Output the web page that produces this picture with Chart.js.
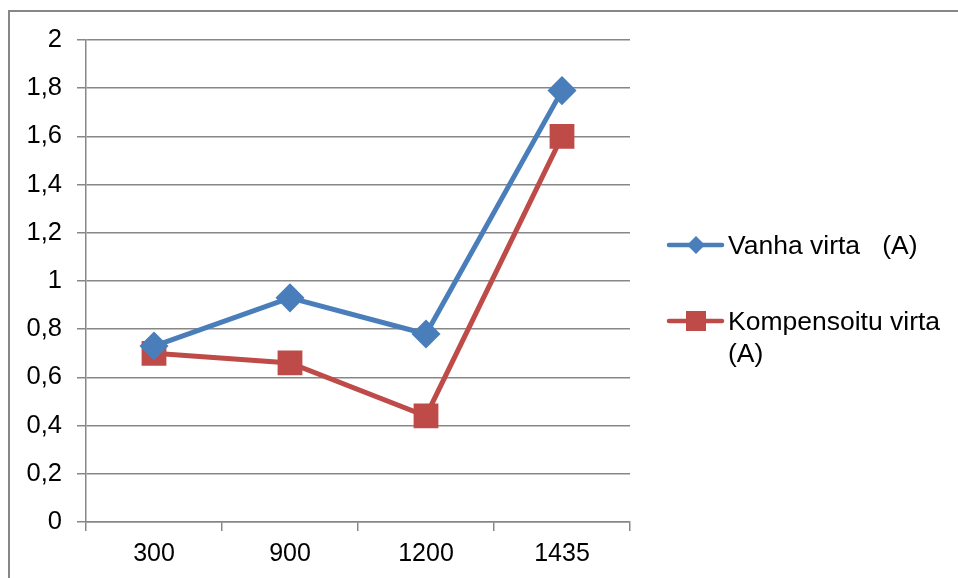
<!DOCTYPE html>
<html>
<head>
    <title>Vanha ja kompensoitu virta</title>
    <script src="https://cdn.jsdelivr.net/npm/chart.js"></script>
    <style>
        body { margin: 0; background: #fff; }
        #wrap { position: relative; width: 958px; height: 578px; }
    </style>
</head>
<body>
    <div id="wrap"><canvas id="virtaChart" width="958" height="578"></canvas></div>

    <script>
        const categories = ['300', '900', '1200', '1435'];
        const vanhaVirta = [0.73, 0.93, 0.78, 1.79];
        const kompensoituVirta = [0.70, 0.66, 0.44, 1.60];
        const seriesLabels = [['Vanha virta   (A)'], ['Kompensoitu virta', '(A)']];

        const FONT = '"Liberation Sans", Arial, sans-serif';
        const GRID = '#878787';

        // frame + legend drawn on the canvas
        const extras = {
            id: 'extras',
            beforeDraw(chart) {
                const ctx = chart.ctx;
                ctx.save();
                ctx.strokeStyle = GRID;
                ctx.lineWidth = 2;
                ctx.beginPath();
                ctx.moveTo(9, 578);
                ctx.lineTo(9, 11);
                ctx.lineTo(958, 11);
                ctx.stroke();
                ctx.restore();
            },
            afterDraw(chart) {
                const ctx = chart.ctx;
                const rows = [245, 321];
                ctx.save();
                chart.data.datasets.forEach((ds, i) => {
                    const y = rows[i];
                    ctx.strokeStyle = ds.borderColor;
                    ctx.lineWidth = 4.5;
                    ctx.lineCap = 'round';
                    ctx.beginPath();
                    ctx.moveTo(669, y);
                    ctx.lineTo(722, y);
                    ctx.stroke();
                    ctx.fillStyle = ds.borderColor;
                    ctx.beginPath();
                    if (ds.pointStyle === 'rectRot') {
                        ctx.moveTo(696, y - 9);
                        ctx.lineTo(705, y);
                        ctx.lineTo(696, y + 9);
                        ctx.lineTo(687, y);
                    } else {
                        ctx.rect(686, y - 10, 20, 20);
                    }
                    ctx.closePath();
                    ctx.fill();
                    ctx.fillStyle = '#000';
                    ctx.font = '26.5px ' + FONT;
                    ctx.textBaseline = 'middle';
                    seriesLabels[i].forEach((t, k) => {
                        ctx.fillText(t, 728, y + 2 + k * 32);
                    });
                });
                ctx.restore();
            }
        };

        new Chart(document.getElementById('virtaChart'), {
            type: 'line',
            data: {
                labels: categories,
                datasets: [{
                    label: 'Vanha virta (A)',
                    data: vanhaVirta,
                    borderColor: '#4A7EBB',
                    backgroundColor: '#4A7EBB',
                    borderWidth: 5,
                    pointStyle: 'rectRot',
                    pointRadius: 11,
                    pointHoverRadius: 11,
                    tension: 0
                }, {
                    label: 'Kompensoitu virta (A)',
                    data: kompensoituVirta,
                    borderColor: '#BE4B48',
                    backgroundColor: '#BE4B48',
                    borderWidth: 5,
                    pointStyle: 'rect',
                    pointRadius: 14,
                    pointHoverRadius: 14,
                    tension: 0
                }]
            },
            options: {
                responsive: false,
                animation: false,
                layout: { padding: { left: 20, top: 40, right: 328, bottom: 0 } },
                plugins: {
                    legend: { display: false },
                    tooltip: { enabled: false }
                },
                scales: {
                    x: {
                        offset: true,
                        grid: { offset: true, drawOnChartArea: false, drawTicks: true, tickLength: 9, color: GRID, lineWidth: 1.5 },
                        border: { color: GRID, width: 1.5 },
                        ticks: { color: '#000', font: { family: FONT, size: 25 }, padding: 8, maxRotation: 0 },
                        afterFit: s => { s.height = 56; }
                    },
                    y: {
                        min: 0,
                        max: 2,
                        grid: { color: GRID, lineWidth: 1.5, tickLength: 9 },
                        border: { color: GRID, width: 1.5 },
                        ticks: {
                            stepSize: 0.2,
                            color: '#000',
                            padding: 15,
                            font: { family: FONT, size: 25.5 },
                            callback: v => (Math.round(v * 10) / 10).toString().replace('.', ',')
                        },
                        afterFit: s => { s.width = 66; }
                    }
                }
            },
            plugins: [extras]
        });
    </script>
</body>
</html>
